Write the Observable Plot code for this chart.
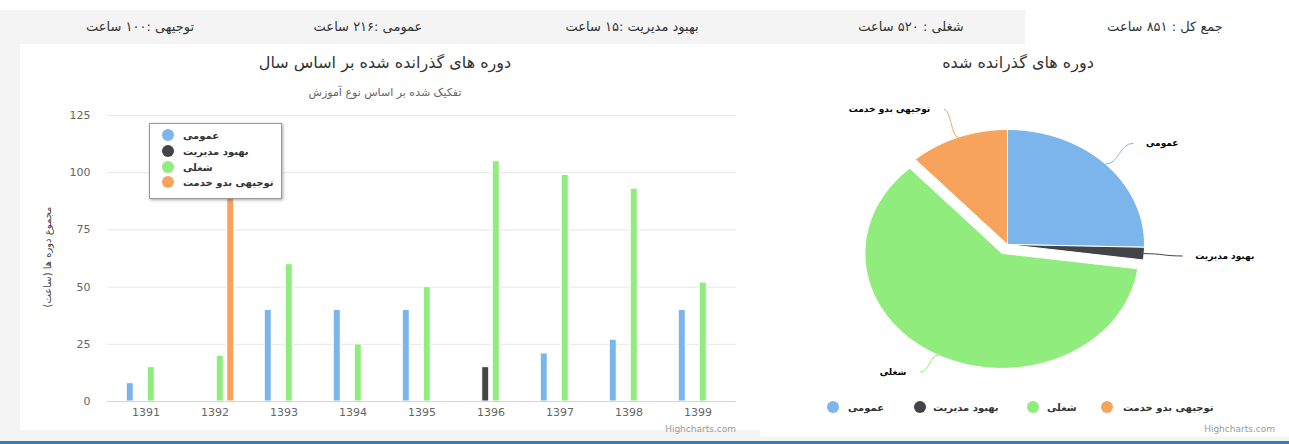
<!DOCTYPE html>
<html><head><meta charset="utf-8">
<script src="https://cdn.jsdelivr.net/npm/d3@7"></script>
<script src="https://cdn.jsdelivr.net/npm/@observablehq/plot@0.6"></script>
<style>
body{margin:0;width:1289px;height:444px;position:relative;background:#fff;font-family:"DejaVu Sans",sans-serif;overflow:hidden}
.abs{position:absolute}
.tab{top:10px;height:34px;line-height:34px;font-size:13px;color:#333;direction:rtl;white-space:nowrap;transform:translateX(-50%)}
.ctr{transform:translate(-50%,-50%);white-space:nowrap;direction:rtl}
.leg{font-size:10px;font-weight:bold;color:#333;white-space:nowrap;direction:rtl;transform:translateY(-50%)}
.dot{width:12px;height:12px;border-radius:50%;transform:translate(-50%,-50%)}
.credit{font-size:9px;color:#999;transform:translate(-100%,-50%);white-space:nowrap}
</style></head>
<body>
<script>
// ---- data ----
const years = ["1391","1392","1393","1394","1395","1396","1397","1398","1399"];
const seriesNames = ["عمومی","بهبود مدیریت","شغلی","توجیهی بدو خدمت"];
const generalHours = [8,0,40,40,40,0,21,27,40];
const managementHours = [0,0,0,0,0,15,0,0,0];
const jobHours = [15,20,60,25,50,105,99,93,52];
const orientationHours = [0,100,0,0,0,0,0,0,0];
const seriesColors = ["#7cb5ec","#434348","#90ed7d","#f7a35c"];
const pieTotals = [216,15,520,100];
const yTicks = [0,25,50,75,100,125];
const tabLabels = ["جمع کل : ۸۵۱ ساعت","شغلی : ۵۲۰ ساعت","بهبود مدیریت :۱۵ ساعت","عمومی :۲۱۶ ساعت","توجیهی :۱۰۰ ساعت"];
const barTitle = "دوره های گذرانده شده بر اساس سال";
const barSubtitle = "تفکیک شده بر اساس نوع آموزش";
const yAxisTitle = "مجموع دوره ها (ساعت)";
const pieTitle = "دوره های گذرانده شده";
const slicedIndex = 2;

// ---- layout helpers ----
function el(cls, css, text){
  const d = document.createElement("div");
  d.className = "abs " + cls;
  Object.assign(d.style, css);
  if (text != null) d.textContent = text;
  document.body.appendChild(d);
  return d;
}
// background pieces
el("", {left:"0px",top:"10px",width:"1289px",height:"34px",background:"#f4f4f4"});
el("", {left:"1025px",top:"10px",width:"264px",height:"34px",background:"#fff"});
el("", {left:"0px",top:"44px",width:"20px",height:"386px",background:"#f4f4f4"});
el("", {left:"0px",top:"430px",width:"760px",height:"11px",background:"#f4f4f4"});
el("", {left:"760px",top:"437px",width:"529px",height:"4px",background:"#f4f4f4"});
el("", {left:"0px",top:"441px",width:"1289px",height:"3px",background:"#3d7ab5"});

const tabX = [1165, 911, 632, 368, 140];
tabLabels.forEach((t,i)=> el("tab", {left: tabX[i]+"px"}, t));

el("ctr", {left:"385px",top:"62px",fontSize:"16px",color:"#333"}, barTitle);
el("ctr", {left:"385px",top:"92px",fontSize:"11px",color:"#666"}, barSubtitle);
el("ctr", {left:"1018px",top:"62px",fontSize:"16px",color:"#333"}, pieTitle);
el("", {left:"47px",top:"257px",fontSize:"10px",color:"#444",whiteSpace:"nowrap",direction:"rtl",transform:"translate(-50%,-50%) rotate(-90deg)"}, yAxisTitle);

// ---- bar chart ----
const seriesValues = [generalHours, managementHours, jobHours, orientationHours];
const barData = seriesNames.flatMap((s,i)=> years.map((y,j)=>({year:y, series:s, value:seriesValues[i][j], si:i})));
const offsets = [-15.75,-5.25,5.25,15.75];

const bar = Plot.plot({
  width: 745, height: 386,
  marginLeft: 107, marginRight: 9, marginTop: 71, marginBottom: 29,
  style: {fontFamily:"DejaVu Sans, sans-serif", color:"#666", background:"transparent", overflow:"visible"},
  x: {domain: years, paddingInner: 0.9, paddingOuter: 0.45, label: null},
  y: {domain: [0,125], ticks: yTicks, label: null},
  marks: [
    Plot.gridY(yTicks, {stroke:"#e6e6e6", strokeOpacity:1}),
    Plot.axisY(yTicks, {tickSize:0, tickPadding:17, fontSize:11, label:null}),
    Plot.axisX({tickSize:0, tickPadding:7, fontSize:11, label:null}),
    ...seriesNames.map((s,i)=> Plot.barY(barData.filter(d=>d.si===i && d.value>0), {
      x:"year", y:"value", fill: seriesColors[i], stroke:"white", strokeWidth:1, dx: offsets[i]
    })),
    Plot.ruleY([0], {stroke:"#ccd6eb"})
  ]
});
Object.assign(bar.style, {position:"absolute", left:"0px", top:"44px"});
document.body.appendChild(bar);

// left legend box
el("", {left:"149px",top:"123px",width:"131px",height:"74px",background:"#fff",border:"1px solid #999",boxShadow:"1px 1px 3px rgba(0,0,0,0.35)"});
const legRows = [135,151,167,182];
seriesNames.forEach((s,i)=>{
  el("dot", {left:"168px", top: legRows[i]+"px", background: seriesColors[i]});
  el("leg", {left:"183px", top: legRows[i]+"px"}, s);
});
el("credit", {left:"736px",top:"429px"}, "Highcharts.com");

// ---- pie chart ----
const arcs = d3.pie().sort(null).startAngle(0).endAngle(2*Math.PI)(pieTotals);
const sliceOff = 0.087;
const labelBottom = -1.11;
const piePts = [];
const labelPts = [];
const connPts = [];
arcs.forEach((a,i)=>{
  const mid = (a.startAngle + a.endAngle)/2;
  const o = i===slicedIndex ? sliceOff : 0;
  const cx = o*Math.sin(mid), cy = o*Math.cos(mid);
  piePts.push({x:cx, y:cy, k:i});
  const n = Math.max(2, Math.ceil((a.endAngle-a.startAngle)/(Math.PI/180)));
  for (let t=0;t<=n;t++){
    const ang = a.startAngle + (a.endAngle-a.startAngle)*t/n;
    piePts.push({x: cx+Math.sin(ang), y: cy+Math.cos(ang), k:i});
  }
  piePts.push({x:cx, y:cy, k:i});
  const ex = cx+Math.sin(mid), ey = cy+Math.cos(mid);
  const lx = cx+1.28*Math.sin(mid), ly = Math.max(labelBottom, cy+1.26*Math.cos(mid));
  connPts.push({x:ex,y:ey,k:i},{x:lx,y:ly,k:i});
  labelPts.push({x:lx, y:ly, name: seriesNames[i], right: Math.sin(mid) >= 0});
});

const pie = Plot.plot({
  width: 544, height: 386,
  marginLeft: 125, marginRight: 145, marginTop: 85, marginBottom: 71,
  style: {fontFamily:"DejaVu Sans, sans-serif", background:"transparent", overflow:"visible"},
  x: {domain:[-1,1], axis:null},
  y: {domain:[-1,1], axis:null},
  marks: [
    ...arcs.map((a,i)=> Plot.line(piePts.filter(d=>d.k===i), {x:"x", y:"y", fill: seriesColors[i], stroke:"white", strokeWidth:1, curve:"linear"})),
    ...arcs.map((a,i)=> Plot.line(connPts.filter(d=>d.k===i), {x:"x", y:"y", stroke: seriesColors[i], strokeWidth:1, curve:"bump-x"})),
    Plot.text(labelPts.filter(d=>d.right), {x:"x", y:"y", text:"name", textAnchor:"start", dx:13, fontSize:9, fontWeight:"bold", fill:"#000", stroke:"white", strokeWidth:2}),
    Plot.text(labelPts.filter(d=>!d.right), {x:"x", y:"y", text:"name", textAnchor:"end", dx:-14, fontSize:9, fontWeight:"bold", fill:"#000", stroke:"white", strokeWidth:2})
  ]
});
Object.assign(pie.style, {position:"absolute", left:"745px", top:"44px"});
document.body.appendChild(pie);

// pie legend
const pieLegDot = [833, 920, 1033, 1107];
const pieLegText = [848, 933, 1047, 1123];
seriesNames.forEach((s,i)=>{
  el("dot", {left: pieLegDot[i]+"px", top:"407px", background: seriesColors[i]});
  el("leg", {left: pieLegText[i]+"px", top:"407px"}, s);
});
el("credit", {left:"1275px",top:"429px"}, "Highcharts.com");
</script>
</body></html>
